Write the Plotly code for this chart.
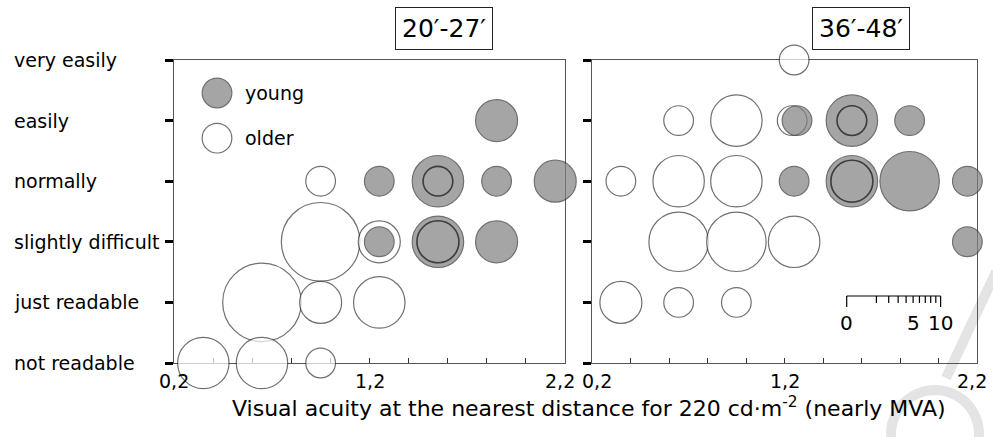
import numpy as np
import plotly.graph_objects as go

# ---- data -------------------------------------------------------------
levels = ["not readable", "just readable", "slightly difficult",
          "normally", "easily", "very easily"]

panel_titles = ["20′-27′", "36′-48′"]

# panel 1: 20′-27′  (x = visual acuity, y = readability level index, n = subjects)
p1_young_x = [1.85, 1.25, 1.55, 1.85, 2.15, 1.25, 1.55, 1.85]
p1_young_y = [4, 3, 3, 3, 3, 2, 2, 2]
p1_young_n = [2, 1, 3, 1, 2, 1, 3, 2]
p1_older_x = [0.95, 1.55, 0.95, 1.25, 1.55, 0.65, 0.95, 1.25, 0.35, 0.65, 0.95]
p1_older_y = [3, 3, 2, 2, 2, 1, 1, 1, 0, 0, 0]
p1_older_n = [1, 1, 7, 2, 2, 7, 2, 3, 3, 3, 1]

# panel 2: 36′-48′
p2_young_x = [1.265, 1.55, 1.85, 1.25, 1.55, 1.85, 2.15, 2.15]
p2_young_y = [4, 4, 4, 3, 3, 3, 3, 2]
p2_young_n = [1, 3, 1, 1, 3, 4, 1, 1]
p2_older_x = [1.25, 0.65, 0.95, 1.24, 1.55, 0.35, 0.65, 0.95, 1.55,
              0.65, 0.95, 1.25, 0.35, 0.65, 0.95]
p2_older_y = [5, 4, 4, 4, 4, 3, 3, 3, 3, 2, 2, 2, 1, 1, 1]
p2_older_n = [1, 1, 3, 1, 1, 1, 3, 3, 2, 4, 4, 3, 2, 1, 1]

x_tick_vals = [0.2, 0.4, 0.6, 0.8, 1.0, 1.2, 1.4, 1.6, 1.8, 2.0, 2.2]
x_label_vals = [0.2, 1.2, 2.2]
x_label_text = ["0,2", "1,2", "2,2"]

scale_counts = list(range(0, 11))
scale_labels = {0: "0", 5: "5", 10: "10"}

legend_names = ["young", "older"]

# ---- style ------------------------------------------------------------
W, H = 993, 437
FONT = "DejaVu Sans"
D1 = 29.7                      # bubble diameter (px) for one subject
YOUNG_FILL = "#808080"
EDGE = "#353535"

# plot areas in pixels: (left, right), (top, bottom)
panel_px = [(174, 565), (592, 977)]
top_px, bottom_px = 60, 363


def px_x(p):
    return p / W


def px_y(p):
    return 1 - p / H


def diam(n):
    return [D1 * np.sqrt(v) for v in n]


fig = go.Figure()

panels = [
    (p1_young_x, p1_young_y, p1_young_n, p1_older_x, p1_older_y, p1_older_n),
    (p2_young_x, p2_young_y, p2_young_n, p2_older_x, p2_older_y, p2_older_n),
]

annotations = []

for i, (yx, yy, yn, ox, oy, on) in enumerate(panels):
    xa = "x" if i == 0 else "x2"
    ya = "y" if i == 0 else "y2"
    # older (open) bubbles
    fig.add_trace(go.Scatter(
        x=ox, y=oy, mode="markers", xaxis=xa, yaxis=ya, cliponaxis=False,
        marker=dict(size=diam(on), color="white",
                    line=dict(color=EDGE, width=1.2)),
        showlegend=False, hoverinfo="skip"))
    # young (filled) bubbles
    fig.add_trace(go.Scatter(
        x=yx, y=yy, mode="markers", xaxis=xa, yaxis=ya, cliponaxis=False,
        marker=dict(size=diam(yn), color=YOUNG_FILL,
                    line=dict(color=EDGE, width=1.2)),
        showlegend=False, hoverinfo="skip"))
    # older counts nested inside a larger young bubble: draw their ring on top
    rx, ry, rn = [], [], []
    for x, y, n in zip(ox, oy, on):
        for x2, y2, n2 in zip(yx, yy, yn):
            if abs(x - x2) < 1e-9 and y == y2 and n2 > n:
                rx.append(x); ry.append(y); rn.append(n)
    if rx:
        fig.add_trace(go.Scatter(
            x=rx, y=ry, mode="markers", xaxis=xa, yaxis=ya, cliponaxis=False,
            marker=dict(size=diam(rn), color="rgba(0,0,0,0)",
                        line=dict(color="#222222", width=1.6)),
            showlegend=False, hoverinfo="skip"))
    # x tick labels (end labels nudged inward so neighbouring panels don't collide)
    for v, t in zip(x_label_vals, x_label_text):
        shift = 0
        if v == x_label_vals[-1]:
            shift = -5
        elif v == x_label_vals[0] and i == 1:
            shift = 5
        annotations.append(dict(x=v, y=0, xref=xa, yref=ya, text=t,
                                showarrow=False, xanchor="center", yanchor="top",
                                xshift=shift, yshift=-5,
                                font=dict(family=FONT, size=19, color="black")))

# legend bubbles inside the first panel
legend_x = 0.42
legend_y = [4.455, 3.71]
fig.add_trace(go.Scatter(
    x=[legend_x, legend_x], y=legend_y, mode="markers", xaxis="x", yaxis="y",
    marker=dict(size=diam([1, 1]), color=[YOUNG_FILL, "white"],
                line=dict(color=EDGE, width=1.2)),
    showlegend=False, hoverinfo="skip"))

for name, ly in zip(legend_names, legend_y):
    annotations.append(dict(x=0.555, y=ly, xref="x", yref="y", text=name,
                            showarrow=False, xanchor="left", yanchor="middle",
                            font=dict(family=FONT, size=19, color="black")))

# readability level labels, left aligned
for k, lab in enumerate(levels):
    annotations.append(dict(x=px_x(12), y=k, xref="paper", yref="y", text=lab,
                            showarrow=False, xanchor="left", yanchor="middle",
                            font=dict(family=FONT, size=19, color="black")))

# boxed panel titles
for title, cx in zip(panel_titles, [444, 861]):
    annotations.append(dict(x=px_x(cx), y=px_y(28), xref="paper", yref="paper",
                            text=title, showarrow=False,
                            xanchor="center", yanchor="middle",
                            bordercolor="#222222", borderwidth=1, borderpad=6,
                            bgcolor="white",
                            font=dict(family=FONT, size=25, color="black")))

# common x-axis title
annotations.append(dict(x=px_x(589), y=px_y(407), xref="paper", yref="paper",
                        text="Visual acuity at the nearest distance for 220 cd·m<sup>-2</sup> (nearly MVA)",
                        showarrow=False, xanchor="center", yanchor="middle",
                        font=dict(family=FONT, size=22, color="black")))

# bubble-size scale bar (position on a sqrt scale)
shapes = []
bar_x0, bar_y = 846.7, 296
bar_len = D1 * np.sqrt(max(scale_counts))
shapes.append(dict(type="line", xref="paper", yref="paper",
                   x0=px_x(bar_x0), x1=px_x(bar_x0 + bar_len),
                   y0=px_y(bar_y), y1=px_y(bar_y),
                   line=dict(color="black", width=1.2)))
for c in scale_counts:
    tx = bar_x0 + bar_len * np.sqrt(c / max(scale_counts))
    tl = 11 if c in (0, 10) else 7
    shapes.append(dict(type="line", xref="paper", yref="paper",
                       x0=px_x(tx), x1=px_x(tx),
                       y0=px_y(bar_y), y1=px_y(bar_y + tl),
                       line=dict(color="black", width=1.2)))
    if c in scale_labels:
        annotations.append(dict(x=px_x(tx), y=px_y(323), xref="paper", yref="paper",
                                text=scale_labels[c], showarrow=False,
                                xanchor="center", yanchor="middle",
                                font=dict(family=FONT, size=20, color="black")))

# faint publisher mark in the lower right corner
mark = "#e4e4e4"
shapes.append(dict(type="path", layer="below", xref="paper", yref="paper",
                   path=f"M {px_x(996)},{px_y(272)} L {px_x(946)},{px_y(378)}",
                   line=dict(color=mark, width=10)))
ang = np.radians(np.linspace(-30, 215, 40))
cx, cy, r = 935, 434, 44
pts = " L ".join(f"{px_x(cx + r*np.cos(a))},{px_y(cy - r*np.sin(a))}" for a in ang)
shapes.append(dict(type="path", layer="below", xref="paper", yref="paper",
                   path="M " + pts, line=dict(color=mark, width=10)))

xaxis_common = dict(range=[0.2, 2.2], tickvals=x_tick_vals,
                    showticklabels=False,
                    ticks="inside", ticklen=5, tickwidth=1, tickcolor="#333333",
                    showline=True, linecolor="#555555", linewidth=1.2,
                    mirror=True, showgrid=False, zeroline=False,
                    layer="below traces", automargin=False)
yaxis_common = dict(range=[0, 5], tickvals=list(range(len(levels))),
                    ticks="outside", ticklen=8, tickwidth=3, tickcolor="black",
                    showticklabels=False, showline=True, linecolor="#555555",
                    linewidth=1.2, mirror=True, showgrid=False, zeroline=False,
                    layer="below traces", automargin=False,
                    domain=[px_y(bottom_px), px_y(top_px)])

fig.update_layout(
    width=W, height=H, margin=dict(l=0, r=0, t=0, b=0, autoexpand=False),
    paper_bgcolor="white", plot_bgcolor="white",
    showlegend=False,
    xaxis=dict(domain=[px_x(panel_px[0][0]), px_x(panel_px[0][1])], anchor="y",
               **xaxis_common),
    xaxis2=dict(domain=[px_x(panel_px[1][0]), px_x(panel_px[1][1])], anchor="y2",
                **xaxis_common),
    yaxis=dict(anchor="x", **yaxis_common),
    yaxis2=dict(anchor="x2", **yaxis_common),
    annotations=annotations,
    shapes=shapes,
)

fig.write_html("out.html")
